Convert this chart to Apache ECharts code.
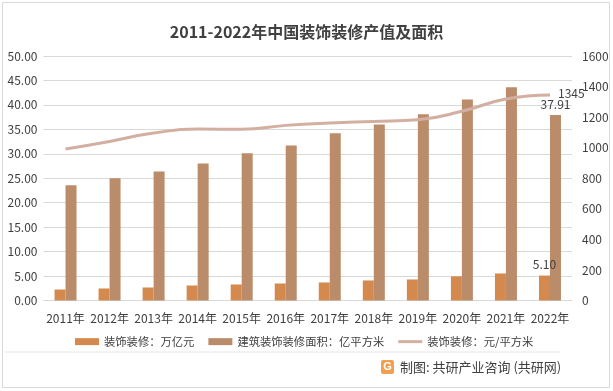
<!DOCTYPE html>
<html><head><meta charset="utf-8">
<script src="https://cdn.jsdelivr.net/npm/echarts@6/dist/echarts.min.js"></script>
<style>html,body{margin:0;padding:0;background:#fff}#c{width:613px;height:391px}</style>
</head><body><div id="c"></div>
<script>
const categories = ['2011年','2012年','2013年','2014年','2015年','2016年','2017年','2018年','2019年','2020年','2021年','2022年'];
const outputValue = [2.25, 2.46, 2.66, 3.07, 3.28, 3.48, 3.69, 4.1, 4.3, 4.95, 5.53, 5.10];
const area = [23.57, 25.0, 26.4, 28.0, 30.1, 31.7, 34.2, 36.0, 38.1, 41.1, 43.6, 37.91];
const pricePerSqm = [991, 1041, 1096, 1122, 1120, 1146, 1162, 1172, 1183, 1238, 1319, 1345];
const leftTicks = {min: 0, max: 50, interval: 5};
const rightTicks = {min: 0, max: 1600, interval: 200};

const fontFam = '"Noto Sans CJK SC","Noto Sans",sans-serif';
const chart = echarts.init(document.getElementById('c'), null, {renderer: 'canvas'});
const last = categories.length - 1;
chart.setOption({
  animation: false,
  textStyle: {fontFamily: fontFam},
  title: {
    text: '2011-2022年中国装饰装修产值及面积',
    left: 'center', top: 19,
    textStyle: {fontSize: 16, fontWeight: 'bold', color: '#404040', fontFamily: fontFam}
  },
  grid: {left: 43.5, right: 41, top: 56, bottom: 90.5},
  legend: {
    top: 331, left: 70, itemGap: 14, itemWidth: 24, itemHeight: 7,
    textStyle: {fontSize: 11.3, color: '#404040'},
    data: [
      {name: '装饰装修：万亿元', icon: 'rect'},
      {name: '建筑装饰装修面积：亿平方米', icon: 'rect'},
      {name: '装饰装修：元/平方米', icon: 'path://M0,0H24V3H0Z'}
    ]
  },
  xAxis: {
    type: 'category', data: categories,
    axisLine: {show: true, lineStyle: {color: '#d9d9d9'}},
    axisTick: {show: false},
    axisLabel: {fontSize: 12, color: '#404040', margin: 12, interval: 0}
  },
  yAxis: [
    {type: 'value', min: leftTicks.min, max: leftTicks.max, interval: leftTicks.interval,
     axisLine: {show: false}, axisTick: {show: false},
     splitLine: {lineStyle: {color: '#d9d9d9', width: 1}},
     axisLabel: {fontSize: 12, color: '#404040', margin: 6, formatter: v => v.toFixed(2)}},
    {type: 'value', min: rightTicks.min, max: rightTicks.max, interval: rightTicks.interval,
     axisLine: {show: false}, axisTick: {show: false}, splitLine: {show: false},
     axisLabel: {fontSize: 12, color: '#404040', margin: 10, formatter: v => String(v)}}
  ],
  series: [
    {name: '装饰装修：万亿元', type: 'bar', data: outputValue.map((v, i) => i === last ? {value: v, label: {show: true}} : v),
     barWidth: 11, barGap: '0%', itemStyle: {color: '#D4894F'},
     label: {show: false, position: 'top', distance: 5, fontSize: 12, color: '#404040', formatter: p => p.value.toFixed(2)}},
    {name: '建筑装饰装修面积：亿平方米', type: 'bar', data: area.map((v, i) => i === last ? {value: v, label: {show: true}} : v),
     barWidth: 11, barGap: '0%', itemStyle: {color: '#BA8C6A'},
     label: {show: false, position: 'top', distance: 5, fontSize: 12, color: '#404040', formatter: p => p.value.toFixed(2)}},
    {name: '装饰装修：元/平方米', type: 'line', yAxisIndex: 1, data: pricePerSqm,
     smooth: true, symbol: 'none', lineStyle: {color: '#D3AFA2', width: 3}, itemStyle: {color: '#D3AFA2'},
     markPoint: {
       symbol: 'circle', symbolSize: 0,
       label: {show: true, position: 'right', distance: 8, offset: [0, -2], fontSize: 12, color: '#404040', formatter: p => String(p.value)},
       data: [{coord: [categories[last], pricePerSqm[last]], value: pricePerSqm[last]}]
     }}
  ],
  graphic: [
    {type: 'rect', shape: {x: 2.5, y: 2.5, width: 607, height: 385}, style: {fill: 'none', stroke: '#d9d9d9', lineWidth: 1}, silent: true},
    {type: 'line', shape: {x1: 5, y1: 352, x2: 560, y2: 352}, style: {stroke: '#e6e6e6', lineWidth: 1}},
    {type: 'rect', shape: {x: 381, y: 360, width: 13, height: 14, r: 2}, style: {fill: '#F0A050'}},
    {type: 'text', style: {x: 387.5, y: 367, text: 'G', fill: '#fff', font: 'bold 11px sans-serif', textAlign: 'center', textVerticalAlign: 'middle'}},
    {type: 'text', style: {x: 400, y: 367, text: '制图: 共研产业咨询 (共研网)', fill: '#404040', font: '13px "Noto Sans CJK SC"', textVerticalAlign: 'middle'}}
  ]
});
</script></body></html>
